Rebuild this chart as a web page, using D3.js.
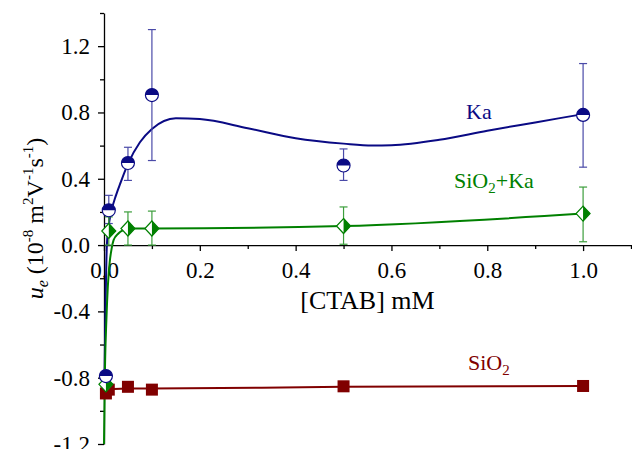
<!DOCTYPE html>
<html>
<head>
<meta charset="utf-8">
<script src="https://cdn.jsdelivr.net/npm/d3@7"></script>
<style>
  body { margin: 0; background: #fff; }
  svg { display: block; font-family: "Liberation Serif", "Times New Roman", serif; }
</style>
</head>
<body>
<div id="chart"></div>
<script>
// measured points, [CTAB] in mM
const concs = [0.004, 0.01, 0.05, 0.1, 0.5, 1.0];

const kaVals = [-0.79, 0.21, 0.495, 0.905, 0.48, 0.785];
const kaErrLow = [null, 0.13, 0.39, 0.51, 0.39, 0.47];
const kaErrHigh = [null, 0.30, 0.59, 1.30, 0.58, 1.095];

const mixVals = [-0.84, 0.085, 0.10, 0.10, 0.115, 0.19];
const mixErrLow = [null, 0.0, 0.0, 0.0, 0.005, 0.02];
const mixErrHigh = [null, 0.17, 0.20, 0.205, 0.23, 0.35];

const sio2Vals = [-0.895, -0.872, -0.855, -0.872, -0.852, -0.85];

// fitted curves
const kaFitX = [0, 0.001, 0.003, 0.006, 0.01, 0.015, 0.025, 0.035, 0.05, 0.075, 0.1, 0.15, 0.2, 0.3, 0.4, 0.5, 0.56, 0.6, 0.7, 0.8, 0.9, 1.0];
const kaFitY = [-0.85, -0.8, -0.4, 0.0, 0.12, 0.2, 0.3, 0.38, 0.49, 0.62, 0.70, 0.765, 0.76, 0.705, 0.645, 0.612, 0.60, 0.602, 0.635, 0.69, 0.74, 0.79];

const mixFitX = [0, 0.002, 0.005, 0.008, 0.012, 0.016, 0.02, 0.03, 0.04, 0.05, 0.1, 0.5, 1.0];
const mixFitY = [-1.2, -0.75, -0.45, -0.25, -0.1, -0.02, 0.03, 0.07, 0.09, 0.10, 0.10, 0.115, 0.19];

const sio2FitX = [0, 0.004, 0.01, 0.02, 0.05, 0.1, 0.5, 1.0];
const sio2FitY = [-0.91, -0.895, -0.88, -0.868, -0.865, -0.865, -0.855, -0.85];

const yMajor = [-1.2, -0.8, -0.4, 0.0, 0.4, 0.8, 1.2];
const yMinor = [-1.0, -0.6, -0.2, 0.2, 0.6, 1.0, 1.4];
const xMajor = [0.0, 0.2, 0.4, 0.6, 0.8, 1.0];
const xMinor = [0.1, 0.3, 0.5, 0.7, 0.9, 1.1];

const navy = "#0a0a84", navyErr = "#4a4aa8";
const green = "#008000", greenErr = "#3c9e3c";
const red = "#800000";

const W = 632, H = 449;
const svg = d3.select("#chart").append("svg")
    .attr("width", W)
    .attr("height", H);

const x = d3.scaleLinear().domain([0, 1.1]).range([104, 631]);
const y = d3.scaleLinear().domain([-1.2, 1.4]).range([444, 13]);

const fmt = d => d.toFixed(1);

// y axis
svg.append("g")
    .attr("transform", `translate(${x(0)},0)`)
    .call(d3.axisLeft(y).tickValues(yMinor).tickSize(4).tickFormat(""))
    .call(g => g.select(".domain").remove());
const yAx = svg.append("g")
    .attr("transform", `translate(${x(0)},0)`)
    .call(d3.axisLeft(y).tickValues(yMajor).tickSize(6).tickSizeOuter(0).tickPadding(8).tickFormat(fmt));
yAx.selectAll("text").attr("font-size", 23).attr("font-family", "Liberation Serif");

// x axis at y = 0
svg.append("g")
    .attr("transform", `translate(0,${y(0)})`)
    .call(d3.axisBottom(x).tickValues(xMinor).tickSize(4).tickFormat(""))
    .call(g => g.select(".domain").remove());
const xAx = svg.append("g")
    .attr("transform", `translate(0,${y(0)})`)
    .call(d3.axisBottom(x).tickValues(xMajor).tickSize(6).tickSizeOuter(0).tickPadding(11).tickFormat(fmt));
xAx.selectAll("text").attr("font-size", 23).attr("font-family", "Liberation Serif");
svg.selectAll(".domain, .tick line").attr("stroke", "#000").attr("stroke-width", 1.3);

// axis titles
svg.append("text")
    .attr("x", (x(0) + x(1.1)) / 2)
    .attr("y", 309)
    .attr("text-anchor", "middle")
    .attr("font-size", 26)
    .text("[CTAB] mM");

const yt = svg.append("text")
    .attr("transform", `translate(43,${(y(-1.2) + y(1.4)) / 2 - 10}) rotate(-90)`)
    .attr("text-anchor", "middle")
    .attr("font-size", 24);
yt.append("tspan").attr("font-style", "italic").text("u");
yt.append("tspan").attr("font-style", "italic").attr("font-size", 16).attr("dy", 5).text("e");
yt.append("tspan").attr("dy", -5).text(" (10");
yt.append("tspan").attr("font-size", 15).attr("dy", -10).text("-8");
yt.append("tspan").attr("dy", 10).text(" m");
yt.append("tspan").attr("font-size", 15).attr("dy", -10).text("2");
yt.append("tspan").attr("dy", 10).text("V");
yt.append("tspan").attr("font-size", 15).attr("dy", -10).text("-1");
yt.append("tspan").attr("dy", 10).text("s");
yt.append("tspan").attr("font-size", 15).attr("dy", -10).text("-1");
yt.append("tspan").attr("dy", 10).text(")");

// fitted lines
const line = d3.line().x(d => x(d[0])).y(d => y(d[1])).curve(d3.curveMonotoneX);
svg.append("path").datum(d3.zip(sio2FitX, sio2FitY))
    .attr("d", line).attr("fill", "none").attr("stroke", red).attr("stroke-width", 2);
svg.append("path").datum(d3.zip(kaFitX, kaFitY))
    .attr("d", line).attr("fill", "none").attr("stroke", navy).attr("stroke-width", 2);
svg.append("path").datum(d3.zip(mixFitX, mixFitY))
    .attr("d", line).attr("fill", "none").attr("stroke", green).attr("stroke-width", 2);

// error bars
function errorBars(lo, hi, color) {
    const data = concs.map((c, i) => ({ c, lo: lo[i], hi: hi[i] })).filter(d => d.lo !== null);
    const g = svg.append("g").attr("stroke", color).attr("stroke-width", 1.2).attr("fill", "none");
    data.forEach(d => {
        const cx = x(d.c);
        g.append("line").attr("x1", cx).attr("x2", cx).attr("y1", y(d.lo)).attr("y2", y(d.hi));
        g.append("line").attr("x1", cx - 4).attr("x2", cx + 4).attr("y1", y(d.lo)).attr("y2", y(d.lo));
        g.append("line").attr("x1", cx - 4).attr("x2", cx + 4).attr("y1", y(d.hi)).attr("y2", y(d.hi));
    });
}
errorBars(kaErrLow, kaErrHigh, navyErr);
errorBars(mixErrLow, mixErrHigh, greenErr);

// markers
const r = 6.5;
svg.append("g").selectAll("rect")
    .data(d3.zip(concs, sio2Vals))
    .join("rect")
    .attr("x", d => x(d[0]) - 6).attr("y", d => y(d[1]) - 6)
    .attr("width", 12).attr("height", 12)
    .attr("fill", red);

const dm = svg.append("g").selectAll("g")
    .data(d3.zip(concs, mixVals))
    .join("g")
    .attr("transform", d => `translate(${x(d[0])},${y(d[1])})`);
dm.append("path").attr("d", "M0,-7.5L7,0L0,7.5L-7,0Z").attr("fill", "#fff").attr("stroke", green).attr("stroke-width", 1.2);
dm.append("path").attr("d", "M0,-7.5L7,0L0,7.5Z").attr("fill", green);

const km = svg.append("g").selectAll("g")
    .data(d3.zip(concs, kaVals))
    .join("g")
    .attr("transform", d => `translate(${x(d[0])},${y(d[1])})`);
km.append("circle").attr("r", r).attr("fill", "#fff").attr("stroke", navy).attr("stroke-width", 1.2);
km.append("path").attr("d", `M${-r},0A${r},${r} 0 0 1 ${r},0Z`).attr("fill", navy);

// series labels
svg.append("text").attr("x", 466).attr("y", 119).attr("font-size", 22).attr("fill", navy).text("Ka");

const lm = svg.append("text").attr("x", 454).attr("y", 188).attr("font-size", 22).attr("fill", green);
lm.append("tspan").text("SiO");
lm.append("tspan").attr("font-size", 15).attr("dy", 5).text("2");
lm.append("tspan").attr("dy", -5).text("+Ka");

const ls = svg.append("text").attr("x", 468).attr("y", 370).attr("font-size", 22).attr("fill", red);
ls.append("tspan").text("SiO");
ls.append("tspan").attr("font-size", 15).attr("dy", 5).text("2");
</script>
</body>
</html>
